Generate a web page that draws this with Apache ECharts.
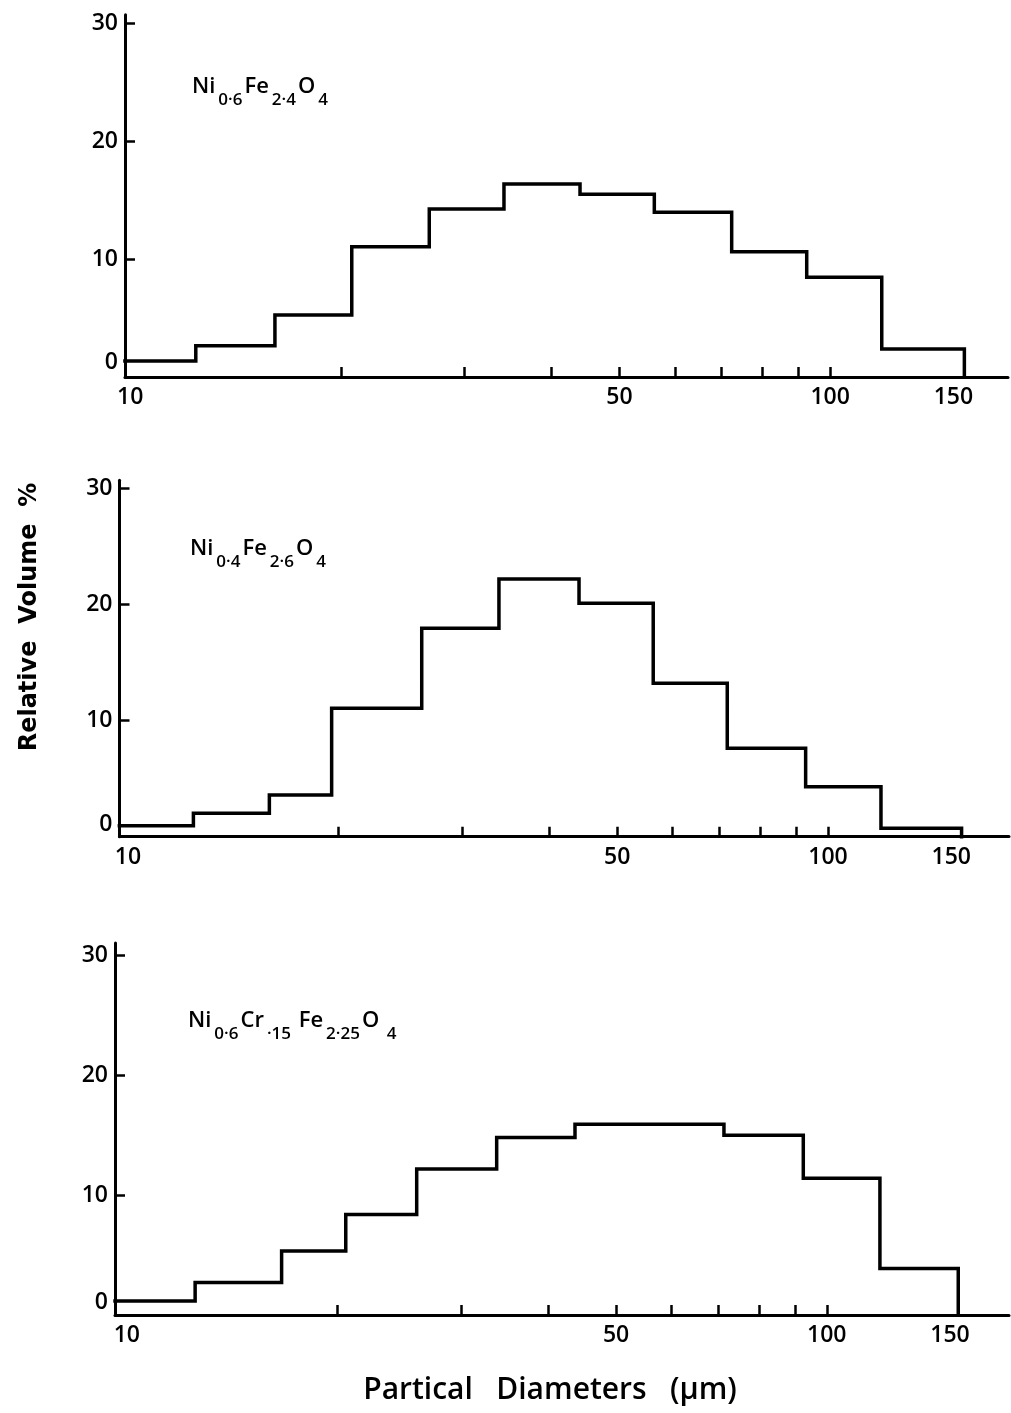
<!DOCTYPE html>
<html><head><meta charset="utf-8">
<script src="https://cdn.jsdelivr.net/npm/echarts@6/dist/echarts.min.js"></script>
<style>html,body{margin:0;padding:0;background:#fff}#c{width:1011px;height:1413px}</style>
</head><body><div id="c"></div>
<script>
// Bin edges (µm) and relative volume (%)
const edges1 = [9.83, 12.41, 16.10, 20.73, 26.75, 34.20, 43.92, 56.08, 72.33, 92.58, 118.5, 155.5];
const values1 = [1.36, 2.65, 5.25, 11.04, 14.24, 16.36, 15.48, 13.96, 10.62, 8.45, 2.37];
const edges2 = [9.72, 12.40, 15.92, 19.54, 26.28, 33.88, 44.09, 56.28, 71.80, 92.92, 119.05, 155.2];
const values2 = [0.95, 2.01, 3.59, 11.06, 17.95, 22.2, 20.1, 13.21, 7.61, 4.31, 0.72];
const edges3 = [9.62, 12.52, 16.64, 20.55, 25.95, 33.76, 43.68, 55.81, 71.30, 92.56, 119.1, 154.1];
const values3 = [1.16, 2.71, 5.34, 8.37, 12.16, 14.79, 15.9, 15.9, 14.98, 11.39, 3.87];

const xLabelValues = [10, 50, 100, 150];
const xTickValues = [20, 30, 40, 50, 60, 70, 80, 90, 100];
const yLabelValues = [0, 10, 20, 30];
const yTickValues = [10, 20, 30];
const xRanges = [[9.832, 179.5], [9.724, 181.4], [9.619, 182.1]];
const yMax = [30.7, 30.7, 31];

const formulas = [
  '{n|Ni}{s|0·6}{n|Fe}{s|2·4}{n|O}{s|4}',
  '{n|Ni}{s|0·4}{n|Fe}{s|2·6}{n|O}{s|4}',
  '{n|Ni}{s|0·6}{n|Cr}{s|·15}{n| Fe}{s|2·25}{n|O}{s| 4}'
];

const FONT = 'Open Sans';
const L = Math.log10;

function steps(edges, vals) {
  const pts = [];
  for (let i = 0; i < vals.length; i++) {
    pts.push([L(edges[i]), vals[i]]);
    pts.push([L(edges[i + 1]), vals[i]]);
  }
  pts.push([L(edges[edges.length - 1]), 0]);
  return pts;
}

const grids = [
  {left: 125, top: 14.7, width: 883, height: 362.3},
  {left: 119.5, top: 480.3, width: 889.5, height: 356.4},
  {left: 115, top: 943, width: 894, height: 372}
];
const zeroShift = [30, 24, 26];
const formulaPos = [[192, 87], [190, 549], [188, 1021]];
const allEdges = [edges1, edges2, edges3];
const allVals = [values1, values2, values3];

const xAxes = [], yAxes = [], series = [], graphics = [];
for (let i = 0; i < 3; i++) {
  xAxes.push({
    type: 'value', gridIndex: i,
    min: L(xRanges[i][0]), max: L(xRanges[i][1]),
    axisLine: {show: true, onZero: false, lineStyle: {color: '#000', width: 3}},
    axisTick: {show: true, inside: true, length: 10, lineStyle: {color: '#000', width: 2.5},
      customValues: xTickValues.map(L)},
    axisLabel: {customValues: xLabelValues.map(L), margin: 9, color: '#000',
      fontSize: 23, fontWeight: 600, fontFamily: FONT,
      formatter: v => String(Math.round(Math.pow(10, v)))},
    splitLine: {show: false}
  });
  yAxes.push({
    type: 'value', gridIndex: i, min: 0, max: yMax[i],
    axisLine: {show: true, lineStyle: {color: '#000', width: 3}},
    axisTick: {show: true, inside: true, length: 10, lineStyle: {color: '#000', width: 2.5},
      customValues: yTickValues},
    axisLabel: {customValues: yLabelValues, margin: 7, color: '#000', fontSize: 23, fontWeight: 600, fontFamily: FONT,
      formatter: v => v === 0 ? '{z|0}' : String(v),
      rich: {z: {padding: [0, 0, zeroShift[i], 0], fontSize: 23, fontWeight: 600, fontFamily: FONT, color: '#000'}}},
    splitLine: {show: false}
  });
  series.push({
    type: 'line', xAxisIndex: i, yAxisIndex: i,
    data: steps(allEdges[i], allVals[i]),
    symbol: 'none', clip: false,
    lineStyle: {color: '#000', width: 3.5, join: 'miter', cap: 'square'}
  });
  graphics.push({
    type: 'text', x: formulaPos[i][0], y: formulaPos[i][1],
    style: {
      text: formulas[i], verticalAlign: 'middle', align: 'left',
      rich: {
        n: {fontSize: 22, fontWeight: 600, fontFamily: FONT, fill: '#000', lineHeight: 44, verticalAlign: 'middle'},
        s: {fontSize: 17, fontWeight: 600, fontFamily: FONT, fill: '#000', verticalAlign: 'bottom', padding: [0, 2, 0, 3]}
      }
    }
  });
}

graphics.push({
  type: 'text', x: 30, y: 617, rotation: Math.PI / 2,
  style: {text: 'Relative  Volume  %', fontSize: 24, fontWeight: 'bold', fontFamily: 'DejaVu Sans',
    fill: '#000', align: 'center', verticalAlign: 'middle'}
});
graphics.push({
  type: 'text', x: 550, y: 1390,
  style: {text: 'Partical   Diameters   (µm)', fontSize: 30, fontWeight: 600, fontFamily: FONT,
    fill: '#000', align: 'center', verticalAlign: 'middle'}
});

const chart = echarts.init(document.getElementById('c'), null, {renderer: 'canvas'});
chart.setOption({
  backgroundColor: '#fff',
  animation: false,
  grid: grids,
  xAxis: xAxes,
  yAxis: yAxes,
  series: series,
  graphic: graphics
});
</script>
</body></html>
